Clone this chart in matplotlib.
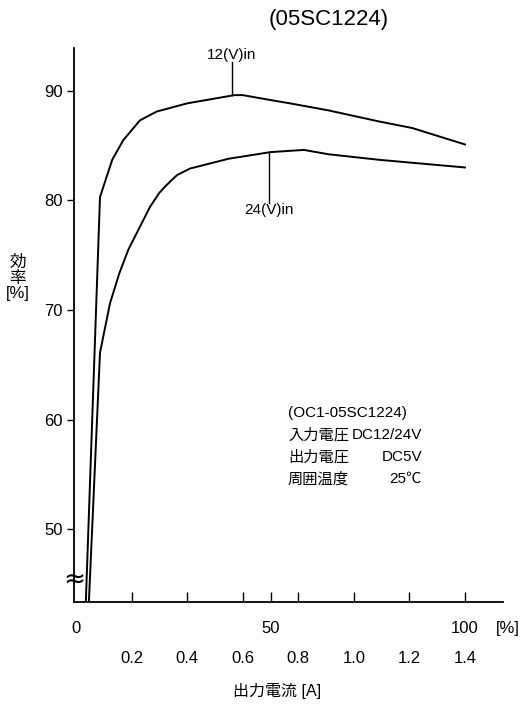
import matplotlib
matplotlib.use("Agg")
from matplotlib import pyplot as plt
import numpy as np

plt.rcParams['font.family'] = ['Liberation Sans', 'Noto Sans CJK JP', 'DejaVu Sans']

# output current [A] vs efficiency [%]
amps_12v = [0.035, 0.086, 0.13, 0.17, 0.23, 0.29, 0.40, 0.57, 0.60, 0.70, 0.77, 0.91, 1.09, 1.21, 1.40]
eff_12v = [43.35, 80.3, 83.7, 85.5, 87.3, 88.1, 88.85, 89.6, 89.6, 89.15, 88.85, 88.2, 87.2, 86.6, 85.1]

amps_24v = [0.046, 0.086, 0.098, 0.122, 0.155, 0.188, 0.23, 0.266, 0.30, 0.326, 0.363, 0.41, 0.55, 0.70, 0.82, 0.91, 1.09, 1.40]
eff_24v = [43.35, 66.1, 67.6, 70.6, 73.3, 75.5, 77.6, 79.4, 80.7, 81.4, 82.3, 82.9, 83.8, 84.4, 84.6, 84.2, 83.7, 83.0]

amp_ticks = [0.2, 0.4, 0.6, 0.8, 1.0, 1.2, 1.4]
amp_labels = ["0.2", "0.4", "0.6", "0.8", "1.0", "1.2", "1.4"]
pct_ticks = [0, 50, 100]
eff_ticks = [50, 60, 70, 80, 90]
full_load = 1.4

fig = plt.figure(figsize=(5.22, 7.06), dpi=100)
ax = fig.add_axes([74/522, 1-602/706, (503-74)/522, (602-48)/706])

ax.plot(amps_12v, eff_12v, color="black", lw=1.4)
ax.plot(amps_24v, eff_24v, color="black", lw=1.4)

ax.set_xlim(-0.0076, 1.537)
ax.set_ylim(43.35, 93.9)
ax.spines["top"].set_visible(False)
ax.spines["right"].set_visible(False)
for s in ["left", "bottom"]:
    ax.spines[s].set_linewidth(1.3)

ax.set_yticks(eff_ticks)
ax.tick_params(axis="y", direction="out", length=5, width=1, labelsize=12, pad=3)

# amp ticks plus the 50% mark
ax.set_xticks(amp_ticks + [0.7])
ax.set_xticklabels(amp_labels + [""])
ax.tick_params(axis="x", direction="in", length=7, width=1, labelsize=12, pad=35)

sec = ax.secondary_xaxis("bottom", functions=(lambda a: a / full_load * 100,
                                              lambda p: p * full_load / 100))
sec.set_xticks(pct_ticks)
sec.tick_params(length=0, labelsize=12, pad=14)
sec.spines["bottom"].set_visible(False)
fig.text(508/522, 1-628/706, "[%]", fontsize=12, ha="center", va="center")

# axis break mark
ax.text(-0.008, 45.4, "≈", fontsize=19, ha="center", va="center",
        family="DejaVu Sans")

# curve labels
ax.plot([0.56, 0.56], [89.6, 92.6], color="black", lw=1)
ax.text(0.56, 93.3, "12(V)in", fontsize=11, ha="center", va="center")
ax.plot([0.695, 0.695], [84.4, 79.8], color="black", lw=1)
ax.text(0.695, 79.1, "24(V)in", fontsize=11, ha="center", va="center")

# spec box
x0 = 288/522
x1 = 422/522
fig.text(x0, 1-413/706, "(OC1-05SC1224)", fontsize=11, va="center")
rows = [("入力電圧", "DC12/24V"), ("出力電圧", "DC5V"), ("周囲温度", "25℃")]
for i, (k, v) in enumerate(rows):
    y = 1 - (435 + 22*i)/706
    fig.text(x0, y, k, fontsize=11, va="center")
    fig.text(x1, y, v, fontsize=11, va="center", ha="right")

fig.text(329/522, 1-20/706, "(05SC1224)", fontsize=16, ha="center", va="center")
fig.text(18/522, 1-278/706, "効\n率\n[%]", fontsize=12, ha="center", va="center",
         linespacing=1.05)
fig.text(277/522, 1-691/706, "出力電流 [A]", fontsize=11.5, ha="center", va="center")

fig.savefig("out.png", dpi=100)
